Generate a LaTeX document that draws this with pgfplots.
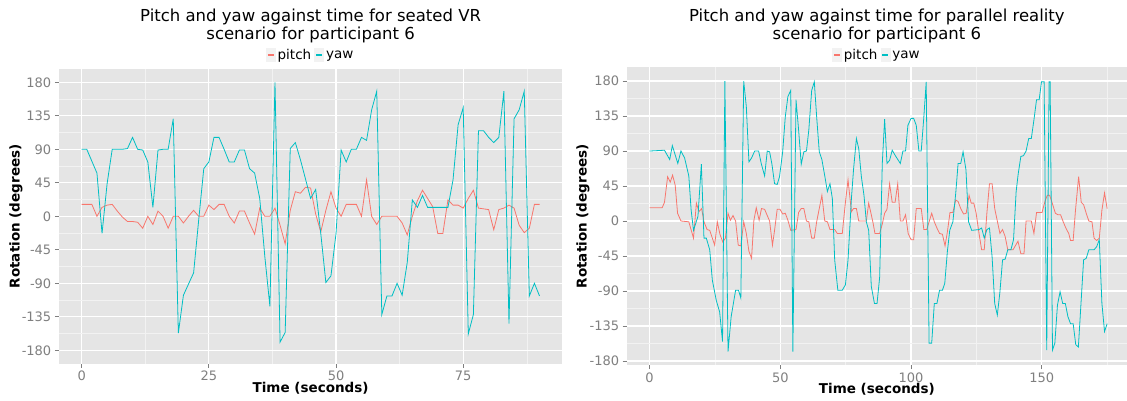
\documentclass[border=0pt]{standalone}
\usepackage{fontspec}
\setmainfont{DejaVu Sans}
\usepackage{pgfplots}
\pgfplotsset{compat=1.18}
\definecolor{ggbg}{HTML}{E5E5E5}
\definecolor{ggminor}{HTML}{F2F2F2}
\definecolor{gggrey}{HTML}{7F7F7F}
\definecolor{cpitch}{HTML}{F8766D}
\definecolor{cyaw}{HTML}{00BFC4}
\pgfplotsset{
  ggstyle/.style={
    scale only axis,
    anchor=south west,
    axis background/.style={fill=ggbg},
    axis line style={draw=none},
    grid=both,
    major grid style={white, line width=1.1pt},
    minor grid style={ggminor, line width=0.5pt},
    tick align=outside,
    major tick length=4pt,
    minor tick length=0pt,
    tick style={color=gggrey, line width=0.8pt},
    xtick pos=bottom, ytick pos=left,
    ticklabel style={font=\fontsize{13}{15}\selectfont, text=gggrey},
    /pgf/number format/assume math mode=true,
    ytick={-180,-135,-90,-45,0,45,90,135,180},
    minor ytick={-157.5,-112.5,-67.5,-22.5,22.5,67.5,112.5,157.5},
    yticklabels={-180,-135,-90,-45,0,45,90,135,180},
    label style={font=\bfseries\fontsize{13.5}{16}\selectfont},
    xlabel={Time (seconds)},
    ylabel={Rotation (degrees)},
    legend columns=2,
    legend style={draw=none, fill=none, inner sep=0pt, font=\fontsize{13.5}{16}\selectfont,
      /tikz/every even column/.append style={column sep=1pt}},
    legend image code/.code={
      \fill[black!5] (0pt,-6.5pt) rectangle (9pt,6.5pt);
      \draw[line width=1.2pt] (1.5pt,0pt) -- (7.5pt,0pt);
    },
    title style={align=center, anchor=center, font=\fontsize{16.5}{18.5}\selectfont},
    every axis plot/.append style={line width=0.8pt, mark=none},
  }
}
\begin{document}
\begin{tikzpicture}[x=1pt,y=1pt]
\useasboundingbox (0,0) rectangle (1127,401);
\begin{axis}[ggstyle,
  at={(58.8pt,37.3pt)}, width=503.6pt, height=294.8pt,
  xmin=-4.5, xmax=94.5, ymin=-198, ymax=198,
  xtick={0,25,50,75}, minor xtick={12.5,37.5,62.5,87.5},
  xticklabels={0,25,50,75},
  xlabel style={at={(axis description cs:0.5,-0.084)}, anchor=center},
  ylabel style={at={(axis description cs:-0.085,0.5)}, anchor=center},
  title={Pitch and yaw against time for seated VR\\scenario for participant 6},
  title style={at={(axis description cs:0.5,1.126)}},
  legend style={at={(axis description cs:0.5,1.047)}, anchor=center},
]
\addplot[cpitch] coordinates {
(0,16)(1,16)(2,16)(3,0)(4,12)(5,15)(6,16)(7,7)(8,-1)(9,-7)(10,-7)(11,-8)(12,-16)(13,0)(14,-11)(15,7)(16,0)(17,-16)(18,0)(19,0)(20,-9)(21,0)(22,8)(23,0)(24,0)(25,15)(26,9)(27,16)(28,16)(29,0)(30,-9)(31,7)(32,7)(33,-9)(34,-24)(35,11)(36,0)(37,0)(38,11)(39,-12)(40,-37)(41,8)(42,33)(43,31)(44,39)(45,38)(46,3)(47,-21)(48,8)(49,33)(50,11)(51,0)(52,16)(53,16)(54,16)(55,0)(56,49)(57,0)(58,-11)(59,0)(60,0)(61,0)(62,0)(63,-9)(64,-25)(65,0)(66,21)(67,35)(68,24)(69,13)(70,-23)(71,-23)(72,22)(73,15)(74,15)(75,11)(76,24)(77,35)(78,11)(79,10)(80,9)(81,-18)(82,9)(83,11)(84,15)(85,11)(86,-12)(87,-22)(88,-16)(89,16)(90,16)
};
\addlegendentry{pitch}
\addplot[cyaw] coordinates {
(0,90)(1,90)(3,58)(4,-23)(5,44)(6,90)(7,90)(8,90)(9,91)(10,106)(11,90)(12,89)(13,73)(14,12)(15,89)(16,90)(17,90)(18,131)(19,-157)(20,-106)(21,-91)(22,-76)(23,-5)(24,64)(25,73)(26,106)(27,106)(28,90)(29,73)(30,73)(31,89)(32,89)(33,64)(34,58)(35,24)(36,-54)(37,-121)(38,180)(39,-169)(40,-156)(41,91)(42,99)(43,76)(44,50)(45,24)(46,36)(47,-23)(48,-89)(49,-80)(50,-23)(51,89)(52,73)(53,90)(54,90)(55,106)(56,102)(57,143)(58,168)(59,-132)(60,-107)(61,-107)(62,-90)(63,-106)(64,-62)(65,22)(66,12)(67,28)(68,12)(69,12)(70,12)(71,12)(72,12)(73,49)(74,123)(75,146)(76,-158)(77,-132)(78,115)(79,115)(80,106)(81,99)(82,106)(83,168)(84,-144)(85,131)(86,143)(87,168)(88,-107)(89,-90)(90,-107)
};
\addlegendentry{yaw}
\end{axis}
\begin{axis}[ggstyle,
  at={(626.7pt,35.8pt)}, width=500.3pt, height=297.7pt,
  xmin=-8.75, xmax=182.6, ymin=-185.4, ymax=197.4,
  xtick={0,50,100,150}, minor xtick={25,75,125,175},
  xticklabels={0,50,100,150},
  xlabel style={at={(axis description cs:0.5,-0.082)}, anchor=center},
  ylabel style={at={(axis description cs:-0.0873,0.5)}, anchor=center},
  title={Pitch and yaw against time for parallel reality\\scenario for participant 6},
  title style={at={(axis description cs:0.5,1.120)}},
  legend style={at={(axis description cs:0.5,1.042)}, anchor=center},
]
\addplot[cpitch] coordinates {
(0,17)(4.8,17)(5.7,24)(6.9,57)(7.9,50)(8.8,59)(9.8,46)(10.7,10)(12,0)(15,-1)(16.8,-22)(17.9,23)(18.9,12)(19.9,16)(20.8,-1)(22,-11)(23,-12)(24.9,-31)(25.9,-1)(26.9,-17)(28,-27)(29,-22)(30,10)(30.9,1)(31.9,7)(32.9,0)(33.9,-31)(34.9,-32)(36,-1)(37,-16)(38,-39)(39,-48)(39.9,1)(40.8,17)(41.9,1)(42.8,16)(44,15)(45.9,0)(47,-31)(47.8,-12)(48.8,15)(49.9,15)(50.9,9)(51.9,10)(52.9,1)(54,-12)(56,-11)(57,11)(58,16)(59,16)(60,0)(60.9,-1)(62,-22)(63,-22)(63.9,-1)(64.9,16)(65.9,33)(67,0)(68,-1)(69,-11)(70.8,-11)(71.8,-16)(73.7,-16)(74.9,24)(75.9,53)(77.2,12)(78,16)(79.1,16)(80,0)(82.9,0)(83.8,23)(84.8,8)(85.5,-3)(86.2,-16)(88,-16)(89,-4)(89.9,10)(90.8,15)(91.8,48)(92.8,24)(93.9,24)(94.9,48)(95.9,0)(96.9,0)(97.9,8)(98.9,-16)(100,-24)(101,-24)(102,16)(103.9,16)(104.9,-11)(106,-11)(107.9,10)(108.9,-1)(109.9,-9)(110.9,-16)(112,-17)(113,-32)(113.9,-14)(114.9,11)(116,11)(117.1,27)(118,25)(119,16)(120.1,9)(121.1,10)(122.2,33)(123,23)(124,23)(124.9,10)(126,-16)(127,-37)(128,-37)(129,10)(130,48)(131,48)(132,16)(133,0)(134,-16)(135,-11)(136,-20)(137,-37)(139,-37)(140.9,-26)(142,-42)(143.2,-42)(144,0)(146,0)(147,-16)(148,11)(150.1,11)(151.2,25)(152.1,33)(153,33)(154,23)(155.2,10)(156.2,8)(157.2,8)(158.2,-1)(159.2,-9)(160.3,-16)(161,-25)(162,-25)(162.9,14)(164.1,57)(165.1,24)(166,21)(167,10)(168,0)(169.2,-1)(170,-22)(171,-25)(172,-22)(173,14)(174,36)(175,16)
};
\addlegendentry{pitch}
\addplot[cyaw] coordinates {
(0,90)(5.7,91)(7.7,79)(8.7,97)(10.8,74)(12,90)(13.4,81)(15,58)(15.9,14)(16.8,-12)(18.5,6)(19.8,73)(20.8,-22)(21.7,-22)(23,-37)(24,-76)(25.5,-102)(26.8,-117)(27.9,-155)(28.8,180)(30,-168)(31.2,-123)(32.9,-89)(34,-89)(34.9,-99)(36,180)(37,147)(38,76)(39,81)(40.2,90)(41.7,90)(42.7,74)(44,58)(45,90)(45.9,89)(46.8,73)(47.8,48)(48.8,47)(49.7,57)(50.9,89)(51.9,134)(52.9,160)(54,168)(54.8,-168)(56,156)(57,117)(58,73)(59,89)(60,90)(60.9,117)(62,168)(63,179)(63.9,134)(64.9,89)(65.9,79)(67,58)(68,38)(69,48)(69.9,29)(70.8,-50)(72,-89)(73.7,-89)(74.9,-82)(75.9,-50)(77.2,29)(78,66)(79.1,106)(80,93)(81,57)(82,33)(82.9,-1)(83.8,-12)(84.8,-84)(86,-106)(87,-106)(88,-72)(89,74)(89.9,131)(90.8,74)(91.8,78)(92.8,91)(94,84)(95.9,74)(96.9,90)(97.9,90)(98.8,123)(100,132)(101,132)(102,123)(103,90)(103.9,90)(104.9,134)(105.8,179)(106.9,-157)(107.9,-157)(108.9,-106)(109.9,-106)(110.9,-89)(112,-89)(112.9,-80)(113.9,-39)(114.8,-12)(116,-1)(117.1,36)(118,74)(119,74)(119.9,89)(121,66)(122,-1)(123.2,-12)(126,-11)(127,-9)(128,-22)(129,-11)(130,-9)(131,-46)(132,-106)(133,-121)(134,-91)(135,-50)(136,-49)(137,-37)(138.2,-37)(139.2,-24)(140.2,38)(141,61)(142,83)(143,84)(144,90)(145,106)(146,106)(147,130)(148,156)(149,156)(149.9,179)(150.9,179)(151.9,-166)(152.8,179)(153.2,179)(154.1,-166)(155,-157)(156,-108)(157,-91)(158,-106)(159,-106)(160,-123)(161,-132)(162,-132)(163,-159)(164,-162)(165,-106)(166,-50)(167,-48)(168,-37)(169,-37)(170,-37)(171,-33)(172,-24)(173,-106)(174,-142)(175,-132)
};
\addlegendentry{yaw}
\end{axis}
\end{tikzpicture}
\end{document}
